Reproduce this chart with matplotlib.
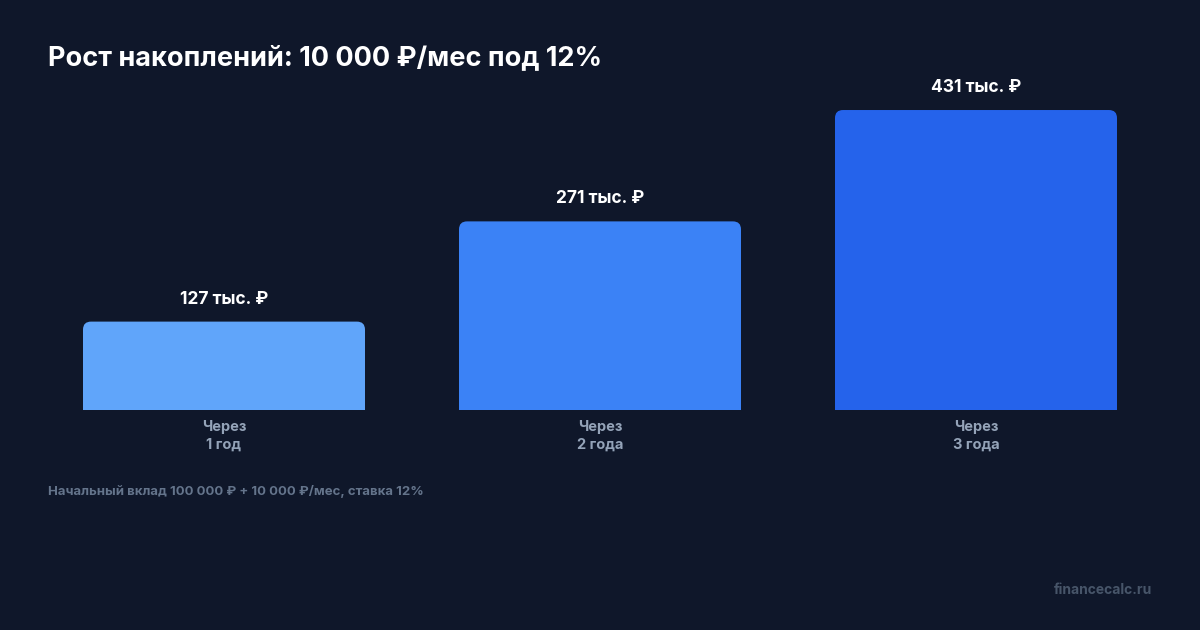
import matplotlib
matplotlib.use("Agg")
import matplotlib.pyplot as plt
from matplotlib.patches import FancyBboxPatch, Rectangle

categories = ["Через\n1 год", "Через\n2 года", "Через\n3 года"]
values = [127, 271, 431]
labels = ["127 тыс. ₽", "271 тыс. ₽", "431 тыс. ₽"]
colors = ["#60a5fa", "#3b82f6", "#2563eb"]

plt.rcParams['font.family'] = ['Inter', 'DejaVu Sans']
BG = "#0f172a"
fig = plt.figure(figsize=(12, 6.3), dpi=100, facecolor=BG)
ax = fig.add_axes([36/1200, 220/630, 1128/1200, 348/630])
ax.set_facecolor(BG)
ax.set_xlim(-0.5, 2.5)
ax.set_ylim(0, 500)
for s in ax.spines.values():
    s.set_visible(False)
ax.set_yticks([])
ax.set_xticks([])

w = 0.75
px_x = 3 / 1128
px_y = 500 / 348
r = 8 * px_x
for i, (v, c, l) in enumerate(zip(values, colors, labels)):
    x0 = i - w / 2
    ax.add_patch(FancyBboxPatch((x0, 0), w, v, boxstyle=f"round,pad=0,rounding_size={r}",
                                mutation_aspect=px_y / px_x, fc=c, ec="none"))
    ax.add_patch(Rectangle((x0, 0), w, v * 0.5, fc=c, ec="none"))
    ax.text(i, v + 14 * px_y, l, ha="center", va="bottom", color="white",
            fontsize=12.5, fontweight="bold")
    ax.text(i, -10 * px_y, categories[i], ha="center", va="top", color="#94a3b8",
            fontsize=10.5, fontweight="bold", linespacing=1.3)

fig.text(48/1200, 1 - 58/630, "Рост накоплений: 10 000 ₽/мес под 12%", color="white",
         fontsize=19.5, fontweight="bold", va="center", ha="left")
fig.text(48/1200, 1 - 491/630, "Начальный вклад 100 000 ₽ + 10 000 ₽/мес, ставка 12%",
         color="#64748b", fontsize=9.5, fontweight="bold", va="center", ha="left")
fig.text(1152/1200, 1 - 590/630, "financecalc.ru", color="#475569",
         fontsize=10, fontweight="bold", va="center", ha="right")
fig.savefig("out.png", facecolor=BG)
